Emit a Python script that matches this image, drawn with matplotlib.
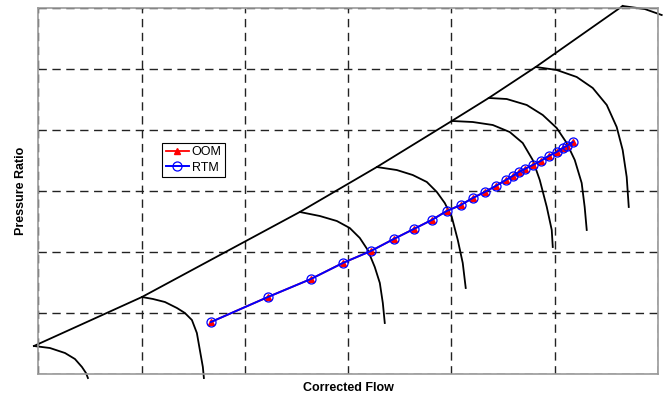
import matplotlib
matplotlib.use("Agg")
import matplotlib.pyplot as plt

plt.rcParams['font.family'] = ['Liberation Sans', 'DejaVu Sans']

# operating line (grid units, 0..6 on both axes)
flow = [1.670, 2.222, 2.638, 2.948, 3.219, 3.441, 3.635, 3.809, 3.954, 4.090,
        4.206, 4.322, 4.429, 4.526, 4.593, 4.652, 4.710, 4.787, 4.864, 4.942,
        5.019, 5.077, 5.116, 5.174]
pr_oom = [0.852, 1.262, 1.557, 1.820, 2.016, 2.213, 2.377, 2.525, 2.672, 2.770,
          2.885, 2.984, 3.082, 3.180, 3.246, 3.311, 3.361, 3.426, 3.492, 3.574,
          3.639, 3.705, 3.738, 3.803]
pr_rtm = list(pr_oom)

# surge line
surge_x = [-0.044, 1.002, 2.531, 3.277, 4.003, 4.361, 4.816, 5.658]
surge_y = [0.459, 1.262, 2.656, 3.393, 4.148, 4.525, 5.033, 6.033]

# constant speed lines
speed_lines = [
    ([-0.044, 0.111, 0.257, 0.353, 0.421, 0.460, 0.479],
     [0.459, 0.426, 0.344, 0.246, 0.115, 0.016, -0.066]),
    ([1.002, 1.108, 1.225, 1.341, 1.418, 1.486, 1.534, 1.563, 1.592, 1.602],
     [1.262, 1.230, 1.180, 1.082, 1.000, 0.885, 0.672, 0.393, 0.115, -0.066]),
    ([2.531, 2.725, 2.890, 3.015, 3.112, 3.189, 3.257, 3.306, 3.335, 3.354],
     [2.656, 2.590, 2.508, 2.393, 2.230, 2.033, 1.754, 1.492, 1.164, 0.836]),
    ([3.277, 3.470, 3.625, 3.761, 3.858, 3.935, 4.003, 4.061, 4.109, 4.138],
     [3.393, 3.344, 3.262, 3.148, 2.984, 2.803, 2.574, 2.197, 1.820, 1.410]),
    ([4.003, 4.206, 4.400, 4.564, 4.690, 4.787, 4.855, 4.923, 4.971, 4.981],
     [4.148, 4.131, 4.082, 3.967, 3.787, 3.508, 3.180, 2.738, 2.361, 2.082]),
    ([4.361, 4.535, 4.729, 4.884, 5.019, 5.116, 5.194, 5.261, 5.290, 5.310],
     [4.525, 4.508, 4.410, 4.246, 4.033, 3.787, 3.508, 3.131, 2.738, 2.361]),
    ([4.816, 5.019, 5.213, 5.368, 5.504, 5.600, 5.658, 5.697, 5.717],
     [5.033, 4.984, 4.869, 4.689, 4.410, 4.049, 3.672, 3.230, 2.738]),
    ([5.658, 5.871, 6.036],
     [6.033, 5.984, 5.885]),
]

fig = plt.figure(figsize=(6.68, 4.0), dpi=100)
ax = fig.add_axes([0.0576, 0.065, 0.9274, 0.915])

ax.plot(surge_x, surge_y, color='black', lw=1.3, clip_on=False)
for sx, sy in speed_lines:
    ax.plot(sx, sy, color='black', lw=1.3, clip_on=False,
            solid_joinstyle='round')

ax.plot(flow, pr_oom, color='red', lw=1.3, marker='^', ms=5,
        markerfacecolor='red', markeredgecolor='red', label='OOM')
ax.plot(flow, pr_rtm, color='blue', lw=1.4, marker='o', ms=6.5,
        markerfacecolor='none', markeredgecolor='blue', markeredgewidth=0.9,
        label='RTM')

ax.set_xlim(0, 6)
ax.set_ylim(0, 6)
ax.set_xticks(range(7))
ax.set_yticks(range(7))
ax.tick_params(length=0, labelbottom=False, labelleft=False)
ax.grid(True, color='#222222', linestyle=(0, (6, 4)), lw=1.0)
for s in ax.spines.values():
    s.set_color('#999999')
    s.set_linewidth(1.2)

ax.set_xlabel('Corrected Flow', fontsize=9, fontweight='bold', labelpad=6)
ax.set_ylabel('Pressure Ratio', fontsize=9, fontweight='bold', labelpad=8)

leg = ax.legend(loc='upper left', bbox_to_anchor=(0.199, 0.632), fontsize=9,
                frameon=True, fancybox=False, framealpha=1, edgecolor='black',
                handlelength=1.9, handletextpad=0.2, borderpad=0.3,
                labelspacing=0.25, borderaxespad=0)
leg.get_frame().set_linewidth(0.8)

fig.savefig('out.png', dpi=100)
